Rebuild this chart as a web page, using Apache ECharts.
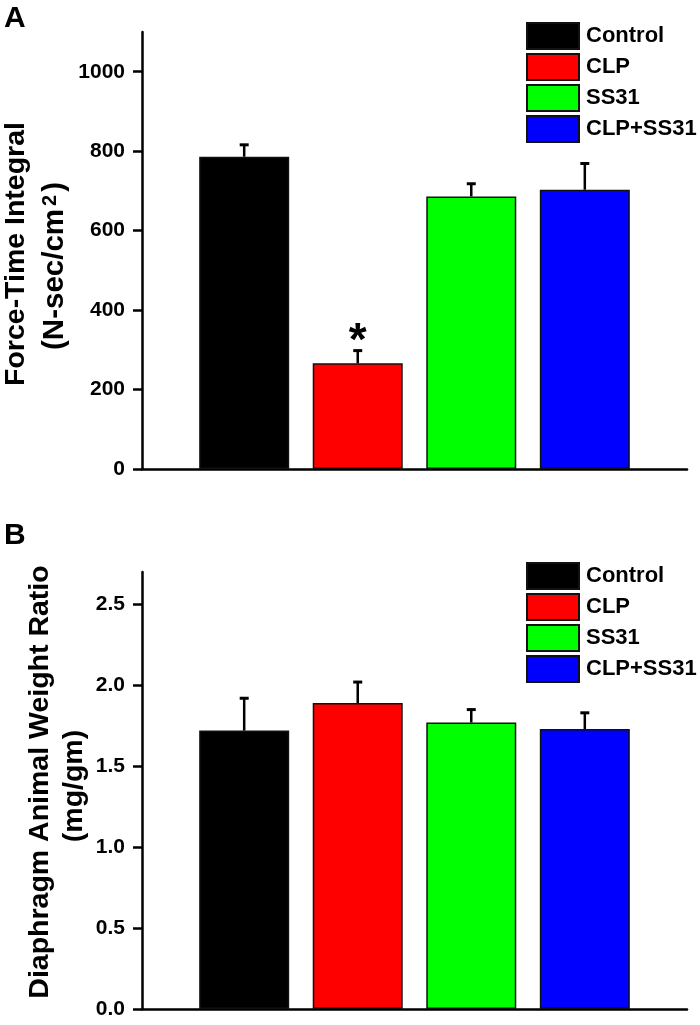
<!DOCTYPE html>
<html><head><meta charset="utf-8">
<script src="https://cdn.jsdelivr.net/npm/echarts@6/dist/echarts.min.js"></script>
<style>html,body{margin:0;padding:0;background:#fff}#c{width:700px;height:1025px}</style>
</head><body><div id="c"></div>
<script>
// ---- data ----
const groups = ['Control', 'CLP', 'SS31', 'CLP+SS31'];
const colors = ['#000000', '#ff0000', '#00ff00', '#0000ff'];
const positions = [1, 2, 3, 4];
const forceMean = [786, 266, 686, 703];
const forceErr = [30, 32, 32, 66];
const forceSig = ['', '*', '', ''];
const ratioMean = [1.72, 1.89, 1.77, 1.73];
const ratioErr = [0.20, 0.13, 0.08, 0.10];
const ratioSig = ['', '', '', ''];
const forceTicks = [0, 200, 400, 600, 800, 1000];
const forceTickLabels = ['0', '200', '400', '600', '800', '1000'];
const ratioTicks = [0, 0.5, 1, 1.5, 2, 2.5];
const ratioTickLabels = ['0.0', '0.5', '1.0', '1.5', '2.0', '2.5'];

const FONT = '"Liberation Sans", Arial, Helvetica, sans-serif';
const chart = echarts.init(document.getElementById('c'), null, {renderer: 'canvas'});

function labelFor(ticks, labels) {
  return function (v) {
    for (let i = 0; i < ticks.length; i++) if (Math.abs(ticks[i] - v) < 1e-9) return labels[i];
    return '';
  };
}

function xAxisDef(gi) {
  return {
    type: 'value', gridIndex: gi, min: 0.1, max: 4.9,
    axisLine: {show: true, onZero: false, lineStyle: {color: '#000', width: 2.5}},
    axisTick: {show: false}, axisLabel: {show: false}, splitLine: {show: false}
  };
}
function yAxisDef(gi, max, ticks, labels) {
  return {
    type: 'value', gridIndex: gi, min: 0, max: max,
    axisLine: {show: true, lineStyle: {color: '#000', width: 2.5}},
    axisTick: {show: true, length: 9, inside: false, customValues: ticks, lineStyle: {color: '#000', width: 2.5}},
    axisLabel: {show: true, customValues: ticks, formatter: labelFor(ticks, labels), margin: 17,
      fontSize: 21, fontWeight: 'bold', color: '#000', fontFamily: FONT},
    splitLine: {show: false}
  };
}

function errRender(params, api) {
  const x = api.value(0), m = api.value(1), e = api.value(2), s = api.value(3);
  const b = api.coord([x, m]);
  const t = api.coord([x, m + e]);
  const ch = [
    {type: 'line', shape: {x1: b[0], y1: b[1], x2: t[0], y2: t[1]}, style: {stroke: '#000', lineWidth: 2.5}},
    {type: 'line', shape: {x1: t[0] - 4.5, y1: t[1], x2: t[0] + 4.5, y2: t[1]}, style: {stroke: '#000', lineWidth: 3}}
  ];
  if (s) {
    ch.push({type: 'text', x: t[0], y: t[1] - 8, style: {text: s, fontSize: 46, fontWeight: 'bold', fontFamily: FONT,
      fill: '#000', textAlign: 'center', textVerticalAlign: 'middle'}});
  }
  return {type: 'group', children: ch};
}

const series = [];
[[forceMean, forceErr, forceSig], [ratioMean, ratioErr, ratioSig]].forEach(function (set, gi) {
  groups.forEach(function (g, i) {
    series.push({
      type: 'bar', name: g, xAxisIndex: gi, yAxisIndex: gi,
      data: [[positions[i], set[0][i]]], barWidth: 90, barGap: '-100%',
      itemStyle: {color: colors[i], borderColor: '#111', borderWidth: 1.5},
      emphasis: {disabled: true}
    });
  });
  series.push({
    type: 'custom', xAxisIndex: gi, yAxisIndex: gi, z: 5,
    data: positions.map(function (p, i) { return [p, set[0][i], set[1][i], set[2][i]]; }),
    renderItem: errRender
  });
});

function legendDef(top) {
  return {
    orient: 'vertical', left: 526, top: top, padding: 0, itemGap: 3,
    itemWidth: 52, itemHeight: 26, icon: 'rect', selectedMode: false,
    data: groups,
    textStyle: {fontSize: 22, fontWeight: 'bold', color: '#000', fontFamily: FONT, padding: [0, 0, 0, 2]}
  };
}

function vText(text, x, y, size, rich) {
  const st = {text: text, fontSize: size, fontWeight: 'bold', fontFamily: FONT, fill: '#000',
    textAlign: 'center', textVerticalAlign: 'middle'};
  if (rich) st.rich = rich;
  return {type: 'text', x: x, y: y, rotation: Math.PI / 2, style: st};
}

chart.setOption({
  animation: false,
  backgroundColor: '#fff',
  grid: [
    {left: 142, top: 32, width: 545, height: 437},
    {left: 142, top: 572, width: 545, height: 437}
  ],
  xAxis: [xAxisDef(0), xAxisDef(1)],
  yAxis: [yAxisDef(0, 1100, forceTicks, forceTickLabels), yAxisDef(1, 2.7, ratioTicks, ratioTickLabels)],
  legend: [legendDef(22), legendDef(562)],
  series: series,
  graphic: [
    {type: 'text', left: 4, top: 4, style: {text: 'A', fontSize: 30, fontWeight: 'bold', fontFamily: FONT, fill: '#000'}},
    {type: 'text', left: 4, top: 521, style: {text: 'B', fontSize: 30, fontWeight: 'bold', fontFamily: FONT, fill: '#000'}},
    vText('Force-Time Integral', 16, 254, 28.5),
    vText('(N-sec/cm{sup|2})', 55, 266, 29.5, {sup: {fontSize: 20, fontWeight: 'bold', fontFamily: FONT, verticalAlign: 'top', fill: '#000', padding: [0, 3, 0, 3]}}),
    vText('Diaphragm Animal Weight Ratio', 40, 782, 28.5),
    vText('(mg/gm)', 74, 786, 28.5)
  ]
});
</script>
</body></html>
